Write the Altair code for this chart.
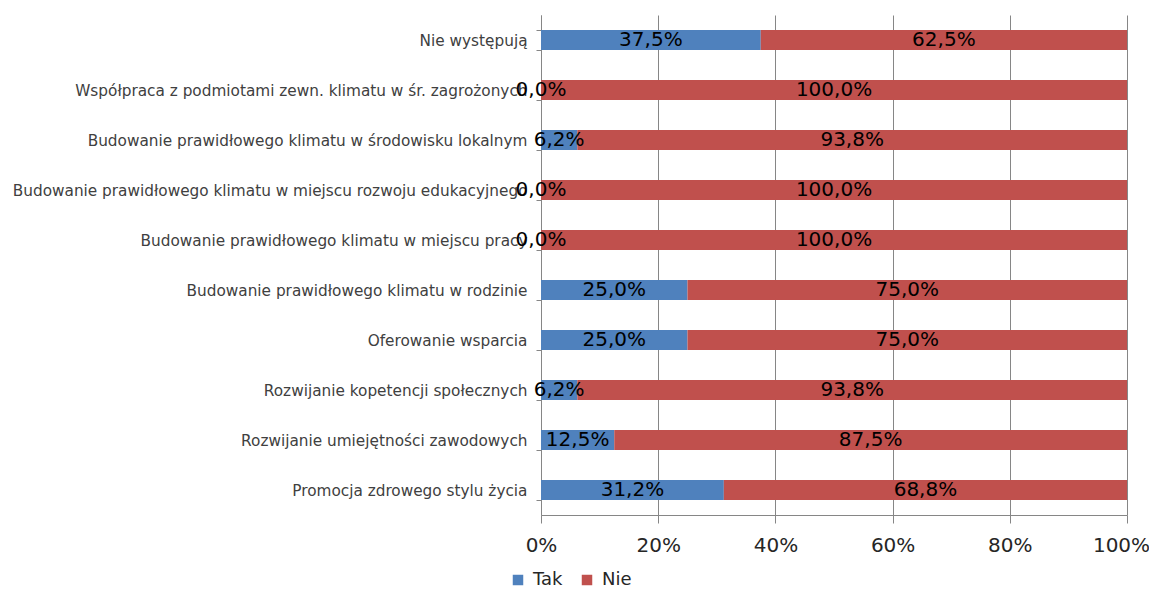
import altair as alt
import pandas as pd

categories = [
    "Nie występują",
    "Współpraca z podmiotami zewn. klimatu w śr. zagrożonych",
    "Budowanie prawidłowego klimatu w środowisku lokalnym",
    "Budowanie prawidłowego klimatu w miejscu rozwoju edukacyjnego",
    "Budowanie prawidłowego klimatu w miejscu pracy",
    "Budowanie prawidłowego klimatu w rodzinie",
    "Oferowanie wsparcia",
    "Rozwijanie kopetencji społecznych",
    "Rozwijanie umiejętności zawodowych",
    "Promocja zdrowego stylu życia",
]
tak = [37.5, 0.0, 6.2, 0.0, 0.0, 25.0, 25.0, 6.2, 12.5, 31.2]
nie = [62.5, 100.0, 93.8, 100.0, 100.0, 75.0, 75.0, 93.8, 87.5, 68.8]
series = ["Tak", "Nie"]
colors = ["#4F81BD", "#C0504D"]
x_ticks = [0, 20, 40, 60, 80, 100]

rows = []
for i, c in enumerate(categories):
    rows.append({"cat": c, "series": "Tak", "order": 0, "value": tak[i]})
    rows.append({"cat": c, "series": "Nie", "order": 1, "value": nie[i]})
df = pd.DataFrame(rows)

FONT = "DejaVu Sans"

base = alt.Chart(df).transform_stack(
    stack="value", groupby=["cat"], as_=["x0", "x1"], sort=[alt.SortField("order")]
).transform_calculate(
    mid="(datum.x0 + datum.x1) / 2",
    label="replace(format(datum.value, '.1f'), '.', ',') + '%'",
)

yenc = alt.Y(
    "cat:N",
    sort=categories,
    title=None,
    scale=alt.Scale(paddingInner=0.6, paddingOuter=0.3),
    axis=alt.Axis(
        tickBand="extent",
        tickSize=5,
        tickColor="#868686",
        domainColor="#868686",
        labelPadding=9,
        labelFont=FONT,
        labelFontSize=15.3,
        labelColor="#404040",
        labelLimit=0,
        labelBound=False,
        grid=False,
    ),
)

bars = base.mark_bar().encode(
    y=yenc,
    x=alt.X(
        "x0:Q",
        title=None,
        scale=alt.Scale(domain=[0, 100], nice=False),
        axis=alt.Axis(
            values=x_ticks,
            labelExpr="datum.value + '%'",
            labelFlush=False,
            labelOverlap=False,
            labelBound=False,
            labelOffset=alt.ExprRef(expr="datum.value == 100 ? -6 : 0"),
            grid=True,
            gridColor="#868686",
            domainColor="#868686",
            tickColor="#868686",
            tickSize=8,
            labelPadding=12,
            labelFont=FONT,
            labelFontSize=20,
            labelColor="#262626",
        ),
    ),
    x2="x1:Q",
    color=alt.Color(
        "series:N",
        sort=series,
        scale=alt.Scale(domain=series, range=colors),
        legend=alt.Legend(
            title=None,
            orient="none",
            direction="horizontal",
            legendX=-32,
            legendY=556,
            symbolType="square",
            symbolSize=110,
            symbolStrokeWidth=0,
            labelFont=FONT,
            labelFontSize=18,
            labelColor="#262626",
            columnPadding=15,
            labelOffset=6,
        ),
    ),
    order=alt.Order("order:Q"),
)

labels = base.mark_text(font=FONT, fontSize=20, color="#000000").encode(
    y=alt.Y("cat:N", sort=categories),
    x=alt.X("mid:Q"),
    text="label:N",
)

chart = (
    alt.layer(bars, labels)
    .properties(
        width=586,
        height=500,
        autosize=alt.AutoSizeParams(type="none"),
        padding={"left": 533, "top": 7, "right": 22, "bottom": 75},
    )
    .configure_view(stroke=None)
)

chart.save("out.html", embed_options={"renderer": "svg", "actions": False})
